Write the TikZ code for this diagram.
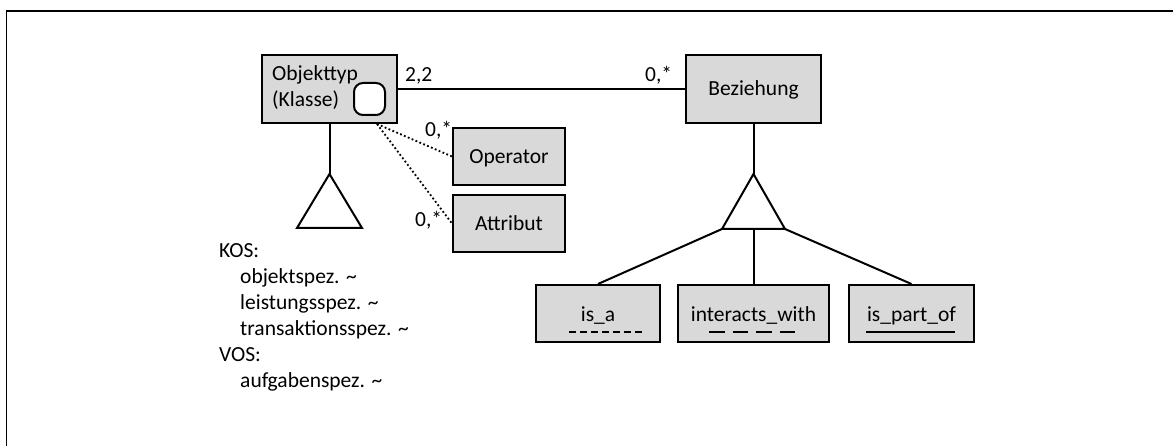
\documentclass[tikz,border=0pt]{standalone}
\usepackage{fontspec}
\setmainfont{Carlito}
\definecolor{boxgray}{HTML}{D9D9D9}
\tikzset{
  px/.style={x=1pt,y=-1pt},
  ln/.style={line width=2pt,black},
  box/.style={draw,ln,fill=boxgray,inner sep=0pt,text height=13.8pt,text depth=0pt},
  lbl/.style={anchor=base west,inner sep=0pt},
  dotline/.style={line width=1.8pt,dash pattern=on 1.8pt off 2.4pt},
}
\begin{document}
\begin{tikzpicture}[px,font=\fontsize{21.5pt}{26pt}\selectfont]
\useasboundingbox (0,0) rectangle (1173,446);
% frame
\draw[line width=1.6pt] (1173,11) -- (6.5,11) -- (6.5,446);

% boxes
\node[box,minimum width=135pt,minimum height=68pt] (obj) at (329.5,89) {};
\node[lbl] (objt1) at (272,81) {Objekttyp};
\node[lbl] (objt2) at (272,107) {(Klasse)};
\node[draw,ln,fill=white,rounded corners=9pt,minimum width=31pt,minimum height=32pt,inner sep=0pt] (sym) at (369.5,99) {};

\node[box,minimum width=135pt,minimum height=68pt] (bez) at (753.5,89) {Beziehung};
\node[box,minimum width=112pt,minimum height=57pt] (op) at (509,156.5) {Operator};
\node[box,minimum width=112pt,minimum height=57pt] (att) at (509,223.5) {Attribut};

\node[box,minimum width=124pt,minimum height=57pt] (isa) at (598,313.5) {};
\node[box,minimum width=151pt,minimum height=57pt] (inter) at (753.5,313.5) {};
\node[box,minimum width=125pt,minimum height=57pt] (part) at (911.5,313.5) {};
\node[anchor=base,inner sep=0pt] (isat) at (isa.center |- 0,322) {is\_a};
\node[anchor=base,inner sep=0pt] (intert) at (inter.center |- 0,322) {interacts\_with};
\node[anchor=base,inner sep=0pt] (partt) at (part.center |- 0,322) {is\_part\_of};

% underlines
\coordinate (u1a) at (569,332); \coordinate (u1b) at (643,332);
\coordinate (u2a) at (709,332); \coordinate (u2b) at (797,332);
\coordinate (u3a) at (866,332); \coordinate (u3b) at (955,332);
\draw[line width=1.8pt,dash pattern=on 7pt off 4pt] (u1a) -- (u1b);
\draw[line width=1.8pt,dash pattern=on 15.5pt off 8pt] (u2a) -- (u2b);
\draw[line width=2.2pt] (u3a) -- (u3b);

% association
\draw[ln] (obj) -- (bez);
\node[lbl] (l22) at (405,82) {2,2};
\node[lbl] (l0b) at (645,82) {0,*};

% dotted links
\coordinate (dstart) at (377,124);
\draw[dotline] (dstart) -- (op.west);
\draw[dotline] (dstart) -- (att.west);
\node[lbl] (l0o) at (425,137) {0,*};
\node[lbl] (l0a) at (415,227) {0,*};

% left triangle
\coordinate (ta) at (329.5,174);
\coordinate (tbl) at (297,228);
\coordinate (tbr) at (362,228);
\draw[ln] (obj.south) -- (ta);
\draw[ln,line join=miter] (ta) -- (tbl) -- (tbr) -- cycle;

% right triangle
\coordinate (ra) at (753.5,174);
\coordinate (rbl) at (722,229);
\coordinate (rbm) at (753.5,229);
\coordinate (rbr) at (785,229);
\draw[ln] (bez.south) -- (ra);
\draw[ln,line join=miter] (ra) -- (rbl) -- (rbr) -- cycle;
\draw[ln] (rbl) -- (isa.north);
\draw[ln] (rbm) -- (inter.north);
\draw[ln] (rbr) -- (part.north);

% text block
\node[lbl] (k1) at (219,258) {KOS:};
\node[lbl] (k2) at (240,284) {objektspez. \char`~};
\node[lbl] (k3) at (240,310) {leistungsspez. \char`~};
\node[lbl] (k4) at (240,336) {transaktionsspez. \char`~};
\node[lbl] (k5) at (219,362) {VOS:};
\node[lbl] (k6) at (240,388) {aufgabenspez. \char`~};
\end{tikzpicture}
\end{document}
